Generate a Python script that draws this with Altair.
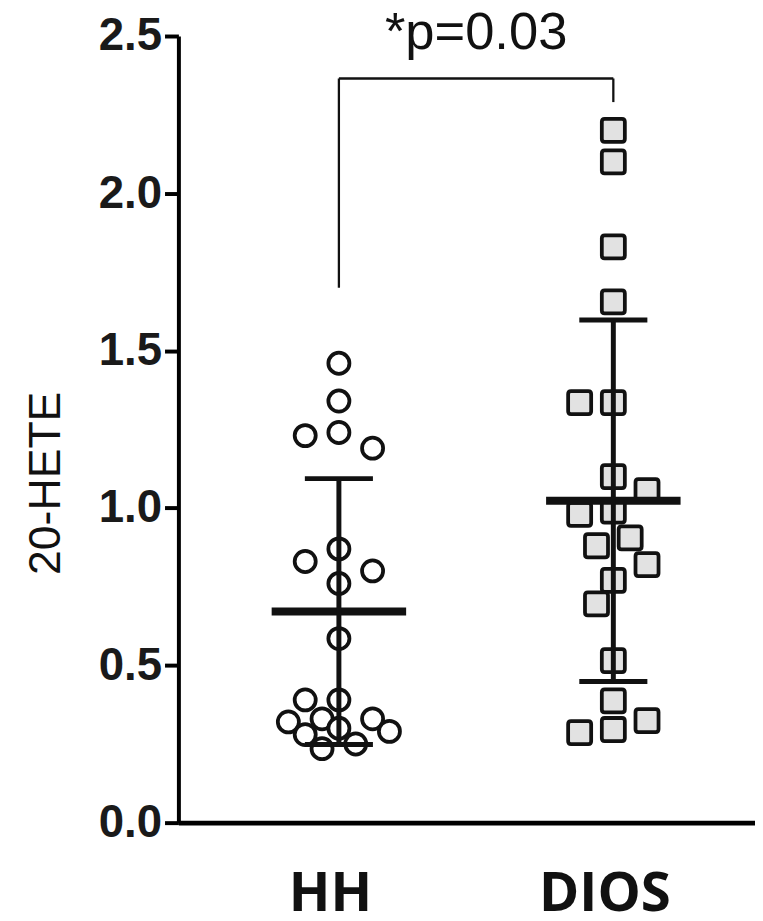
import altair as alt
import pandas as pd

# ---------------- data ----------------
groups = ["HH", "DIOS"]
group_pos = [1, 2]
hh_values = [1.46, 1.34, 1.24, 1.23, 1.19, 0.87, 0.83, 0.80, 0.76, 0.585,
             0.39, 0.39, 0.33, 0.33, 0.32, 0.30, 0.29, 0.28, 0.25, 0.235]
dios_values = [2.20, 2.10, 1.83, 1.655, 1.335, 1.335, 1.10, 1.055, 0.99, 0.98,
               0.905, 0.88, 0.82, 0.77, 0.695, 0.515, 0.387, 0.324, 0.296, 0.286]
y_ticks = [0.0, 0.5, 1.0, 1.5, 2.0, 2.5]
y_title = "20-HETE"
p_label = "*p=0.03"

# ---------------- layout constants ----------------
W, H = 582, 794
X_DOMAIN = [0.4152, 2.5162]
Y_DOMAIN = [0.0, 2.5]
PX_X = W / (X_DOMAIN[1] - X_DOMAIN[0])
PX_Y = H / (Y_DOMAIN[1] - Y_DOMAIN[0])


def swarm(vals, d=28.0, step=17.0, kmax=3):
    """Beeswarm with a limited column width: markers are spread sideways
    to avoid overlap; when the column is full, the least-crowded slot wins."""
    placed = []
    out = [0.0] * len(vals)
    order = sorted(range(len(vals)), key=lambda i: -vals[i])
    for i in order:
        y = vals[i] * PX_Y
        left = sum(1 for px, _ in placed if px < 0)
        right = sum(1 for px, _ in placed if px > 0)
        sides = (-1, 1) if left <= right else (1, -1)
        cands = [0.0] + [s * k * step for k in range(1, kmax + 1) for s in sides]

        def mind(c):
            if not placed:
                return 1e9
            return min(((c - px) ** 2 + (y - py) ** 2) ** 0.5 for px, py in placed)

        chosen = None
        for c in cands:
            if mind(c) >= d:
                chosen = c
                break
        if chosen is None:
            chosen = max(cands, key=mind)
        placed.append((chosen, y))
        out[i] = chosen / PX_X
    return out


rows = []
for g, gx, vals in zip(groups, group_pos, [hh_values, dios_values]):
    offs = swarm(vals)
    for v, o in zip(vals, offs):
        rows.append({"group": g, "gx": gx, "value": v, "xpos": gx + o})
df = pd.DataFrame(rows)

x_scale = alt.Scale(domain=X_DOMAIN, nice=False, zero=False)
y_scale = alt.Scale(domain=Y_DOMAIN, nice=False, zero=True)

x_axis = alt.Axis(
    values=group_pos,
    labelExpr="datum.value == 1 ? 'HH' : 'DIOS'",
    ticks=False, grid=False, title=None,
    domainColor="black", domainWidth=5,
    labelFont="Open Sans", labelFontWeight="bold", labelFontSize=55,
    labelColor="#111111", labelPadding=46, labelOffset=-9,
)
y_axis = alt.Axis(
    values=y_ticks, format=".1f", grid=False,
    domainColor="black", domainWidth=4,
    tickColor="black", tickWidth=4, tickSize=14,
    labelFont="Liberation Sans", labelFontWeight="bold", labelFontSize=46,
    labelColor="#1a1a1a", labelPadding=3,
    title=y_title, titleFont="Liberation Sans",
    titleFontSize=45, titleFontWeight="normal", titleColor="#111111",
    titleAngle=270, titleX=-120, titleY=451, titleAlign="center",
    titleBaseline="alphabetic",
)

base = alt.Chart(df)

rounded_square = ("M -0.75,-1 L 0.75,-1 Q 1,-1 1,-0.75 L 1,0.75 Q 1,1 0.75,1 "
                  "L -0.75,1 Q -1,1 -1,0.75 L -1,-0.75 Q -1,-1 -0.75,-1 Z")

points = base.mark_point(filled=False, strokeWidth=3.8, opacity=1).encode(
    x=alt.X("xpos:Q", scale=x_scale, axis=x_axis),
    y=alt.Y("value:Q", scale=y_scale, axis=y_axis),
    shape=alt.Shape("group:N", scale=alt.Scale(domain=groups, range=["circle", rounded_square]), legend=None),
    fill=alt.Fill("group:N", scale=alt.Scale(domain=groups, range=["white", "#e2e2e2"]), legend=None),
    size=alt.Size("group:N", scale=alt.Scale(domain=groups, range=[452, 540]), legend=None),
    stroke=alt.value("#111111"),
)

MEAN_HALF = 0.245
CAP_HALF = 0.124

stats = base.transform_aggregate(
    mean="mean(value)", sd="stdev(value)", groupby=["group", "gx"]
).transform_calculate(
    lo="datum.mean - datum.sd",
    hi="datum.mean + datum.sd",
    m0=f"datum.gx - {MEAN_HALF}",
    m1=f"datum.gx + {MEAN_HALF}",
    c0=f"datum.gx - {CAP_HALF}",
    c1=f"datum.gx + {CAP_HALF}",
)

mean_line = stats.mark_rule(color="#111111", strokeWidth=8).encode(
    x=alt.X("m0:Q", scale=x_scale), x2="m1:Q", y=alt.Y("mean:Q", scale=y_scale)
)
sd_line = stats.mark_rule(color="#111111", strokeWidth=5).encode(
    x=alt.X("gx:Q", scale=x_scale), y=alt.Y("lo:Q", scale=y_scale), y2="hi:Q"
)
cap_hi = stats.mark_rule(color="#111111", strokeWidth=5).encode(
    x=alt.X("c0:Q", scale=x_scale), x2="c1:Q", y=alt.Y("hi:Q", scale=y_scale)
)
cap_lo = stats.mark_rule(color="#111111", strokeWidth=5).encode(
    x=alt.X("c0:Q", scale=x_scale), x2="c1:Q", y=alt.Y("lo:Q", scale=y_scale)
)

# significance bracket, placed relative to the data maxima
top = max(dios_values) + 0.165
bracket = pd.DataFrame([
    {"x": 1, "x2": 2, "y": top, "y2": top},
    {"x": 1, "x2": 1, "y": max(hh_values) + 0.24, "y2": top},
    {"x": 2, "x2": 2, "y": max(dios_values) + 0.09, "y2": top},
])
bracket_rules = alt.Chart(bracket).mark_rule(color="#111111", strokeWidth=2.3).encode(
    x=alt.X("x:Q", scale=x_scale), x2="x2:Q",
    y=alt.Y("y:Q", scale=y_scale), y2="y2:Q",
)
ptext = alt.Chart(pd.DataFrame([{"x": 1.5, "y": top + 0.095, "t": p_label}])).mark_text(
    font="Liberation Sans", fontSize=53, color="#111111", baseline="alphabetic", align="center"
).encode(x=alt.X("x:Q", scale=x_scale), y=alt.Y("y:Q", scale=y_scale), text="t:N")

chart = alt.layer(
    points, mean_line, sd_line, cap_hi, cap_lo, bracket_rules, ptext
).properties(
    width=W, height=H,
    padding={"left": 172, "top": 24, "right": 0, "bottom": 95},
    autosize="none",
    background="white",
).configure_view(stroke=None)

chart.save("out.html", embed_options={"renderer": "svg", "actions": False})
